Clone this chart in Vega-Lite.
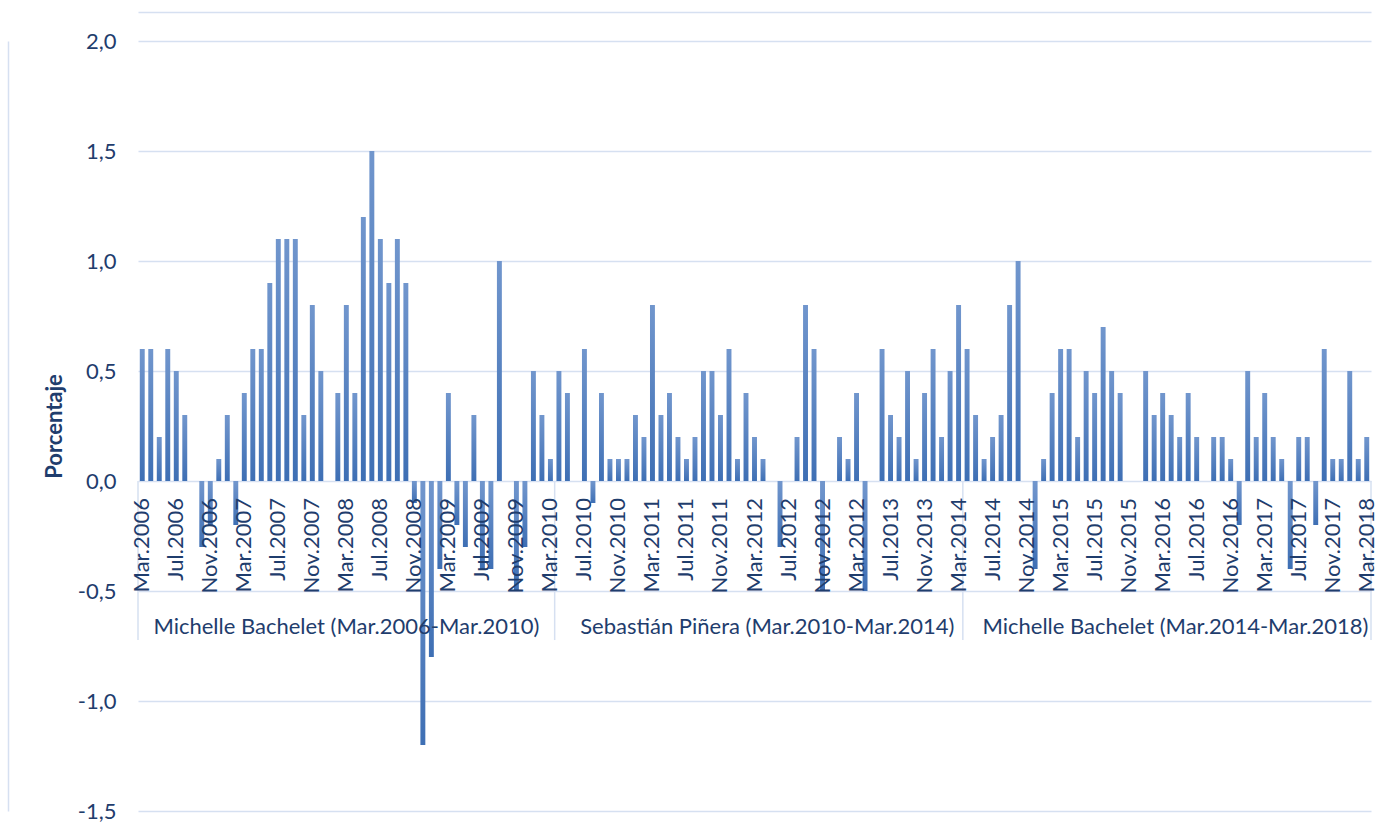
{
  "$schema": "https://vega.github.io/schema/vega-lite/v6.json",
  "width": 1233,
  "height": 770,
  "autosize": {"type": "none"},
  "padding": {"left": 138, "top": 41, "right": 21, "bottom": 25},
  "background": "white",
  "config": {
    "view": {"stroke": null},
    "locale": {"number": {"decimal": ",", "thousands": ".", "grouping": [3], "currency": ["", ""], "minus": "-"}}
  },
  "resolve": {"axis": {"y": "independent"}},
  "datasets": {
    "ipc": [
      {"mes": "2006-03", "v": 0.6, "e": "Mar.2006"},
      {"mes": "2006-04", "v": 0.6},
      {"mes": "2006-05", "v": 0.2},
      {"mes": "2006-06", "v": 0.6},
      {"mes": "2006-07", "v": 0.5, "e": "Jul.2006"},
      {"mes": "2006-08", "v": 0.3},
      {"mes": "2006-09", "v": 0.0},
      {"mes": "2006-10", "v": -0.3},
      {"mes": "2006-11", "v": -0.2, "e": "Nov.2006"},
      {"mes": "2006-12", "v": 0.1},
      {"mes": "2007-01", "v": 0.3},
      {"mes": "2007-02", "v": -0.2},
      {"mes": "2007-03", "v": 0.4, "e": "Mar.2007"},
      {"mes": "2007-04", "v": 0.6},
      {"mes": "2007-05", "v": 0.6},
      {"mes": "2007-06", "v": 0.9},
      {"mes": "2007-07", "v": 1.1, "e": "Jul.2007"},
      {"mes": "2007-08", "v": 1.1},
      {"mes": "2007-09", "v": 1.1},
      {"mes": "2007-10", "v": 0.3},
      {"mes": "2007-11", "v": 0.8, "e": "Nov.2007"},
      {"mes": "2007-12", "v": 0.5},
      {"mes": "2008-01", "v": 0.0},
      {"mes": "2008-02", "v": 0.4},
      {"mes": "2008-03", "v": 0.8, "e": "Mar.2008"},
      {"mes": "2008-04", "v": 0.4},
      {"mes": "2008-05", "v": 1.2},
      {"mes": "2008-06", "v": 1.5},
      {"mes": "2008-07", "v": 1.1, "e": "Jul.2008"},
      {"mes": "2008-08", "v": 0.9},
      {"mes": "2008-09", "v": 1.1},
      {"mes": "2008-10", "v": 0.9},
      {"mes": "2008-11", "v": -0.1, "e": "Nov.2008"},
      {"mes": "2008-12", "v": -1.2},
      {"mes": "2009-01", "v": -0.8},
      {"mes": "2009-02", "v": -0.4},
      {"mes": "2009-03", "v": 0.4, "e": "Mar.2009"},
      {"mes": "2009-04", "v": -0.2},
      {"mes": "2009-05", "v": -0.3},
      {"mes": "2009-06", "v": 0.3},
      {"mes": "2009-07", "v": -0.4, "e": "Jul.2009"},
      {"mes": "2009-08", "v": -0.4},
      {"mes": "2009-09", "v": 1.0},
      {"mes": "2009-10", "v": 0.0},
      {"mes": "2009-11", "v": -0.5, "e": "Nov.2009"},
      {"mes": "2009-12", "v": -0.3},
      {"mes": "2010-01", "v": 0.5},
      {"mes": "2010-02", "v": 0.3},
      {"mes": "2010-03", "v": 0.1, "e": "Mar.2010"},
      {"mes": "2010-04", "v": 0.5},
      {"mes": "2010-05", "v": 0.4},
      {"mes": "2010-06", "v": 0.0},
      {"mes": "2010-07", "v": 0.6, "e": "Jul.2010"},
      {"mes": "2010-08", "v": -0.1},
      {"mes": "2010-09", "v": 0.4},
      {"mes": "2010-10", "v": 0.1},
      {"mes": "2010-11", "v": 0.1, "e": "Nov.2010"},
      {"mes": "2010-12", "v": 0.1},
      {"mes": "2011-01", "v": 0.3},
      {"mes": "2011-02", "v": 0.2},
      {"mes": "2011-03", "v": 0.8, "e": "Mar.2011"},
      {"mes": "2011-04", "v": 0.3},
      {"mes": "2011-05", "v": 0.4},
      {"mes": "2011-06", "v": 0.2},
      {"mes": "2011-07", "v": 0.1, "e": "Jul.2011"},
      {"mes": "2011-08", "v": 0.2},
      {"mes": "2011-09", "v": 0.5},
      {"mes": "2011-10", "v": 0.5},
      {"mes": "2011-11", "v": 0.3, "e": "Nov.2011"},
      {"mes": "2011-12", "v": 0.6},
      {"mes": "2012-01", "v": 0.1},
      {"mes": "2012-02", "v": 0.4},
      {"mes": "2012-03", "v": 0.2, "e": "Mar.2012"},
      {"mes": "2012-04", "v": 0.1},
      {"mes": "2012-05", "v": 0.0},
      {"mes": "2012-06", "v": -0.3},
      {"mes": "2012-07", "v": 0.0, "e": "Jul.2012"},
      {"mes": "2012-08", "v": 0.2},
      {"mes": "2012-09", "v": 0.8},
      {"mes": "2012-10", "v": 0.6},
      {"mes": "2012-11", "v": -0.5, "e": "Nov.2012"},
      {"mes": "2012-12", "v": 0.0},
      {"mes": "2013-01", "v": 0.2},
      {"mes": "2013-02", "v": 0.1},
      {"mes": "2013-03", "v": 0.4, "e": "Mar.2012"},
      {"mes": "2013-04", "v": -0.5},
      {"mes": "2013-05", "v": 0.0},
      {"mes": "2013-06", "v": 0.6},
      {"mes": "2013-07", "v": 0.3, "e": "Jul.2013"},
      {"mes": "2013-08", "v": 0.2},
      {"mes": "2013-09", "v": 0.5},
      {"mes": "2013-10", "v": 0.1},
      {"mes": "2013-11", "v": 0.4, "e": "Nov.2013"},
      {"mes": "2013-12", "v": 0.6},
      {"mes": "2014-01", "v": 0.2},
      {"mes": "2014-02", "v": 0.5},
      {"mes": "2014-03", "v": 0.8, "e": "Mar.2014"},
      {"mes": "2014-04", "v": 0.6},
      {"mes": "2014-05", "v": 0.3},
      {"mes": "2014-06", "v": 0.1},
      {"mes": "2014-07", "v": 0.2, "e": "Jul.2014"},
      {"mes": "2014-08", "v": 0.3},
      {"mes": "2014-09", "v": 0.8},
      {"mes": "2014-10", "v": 1.0},
      {"mes": "2014-11", "v": 0.0, "e": "Nov.2014"},
      {"mes": "2014-12", "v": -0.4},
      {"mes": "2015-01", "v": 0.1},
      {"mes": "2015-02", "v": 0.4},
      {"mes": "2015-03", "v": 0.6, "e": "Mar.2015"},
      {"mes": "2015-04", "v": 0.6},
      {"mes": "2015-05", "v": 0.2},
      {"mes": "2015-06", "v": 0.5},
      {"mes": "2015-07", "v": 0.4, "e": "Jul.2015"},
      {"mes": "2015-08", "v": 0.7},
      {"mes": "2015-09", "v": 0.5},
      {"mes": "2015-10", "v": 0.4},
      {"mes": "2015-11", "v": 0.0, "e": "Nov.2015"},
      {"mes": "2015-12", "v": 0.0},
      {"mes": "2016-01", "v": 0.5},
      {"mes": "2016-02", "v": 0.3},
      {"mes": "2016-03", "v": 0.4, "e": "Mar.2016"},
      {"mes": "2016-04", "v": 0.3},
      {"mes": "2016-05", "v": 0.2},
      {"mes": "2016-06", "v": 0.4},
      {"mes": "2016-07", "v": 0.2, "e": "Jul.2016"},
      {"mes": "2016-08", "v": 0.0},
      {"mes": "2016-09", "v": 0.2},
      {"mes": "2016-10", "v": 0.2},
      {"mes": "2016-11", "v": 0.1, "e": "Nov.2016"},
      {"mes": "2016-12", "v": -0.2},
      {"mes": "2017-01", "v": 0.5},
      {"mes": "2017-02", "v": 0.2},
      {"mes": "2017-03", "v": 0.4, "e": "Mar.2017"},
      {"mes": "2017-04", "v": 0.2},
      {"mes": "2017-05", "v": 0.1},
      {"mes": "2017-06", "v": -0.4},
      {"mes": "2017-07", "v": 0.2, "e": "Jul.2017"},
      {"mes": "2017-08", "v": 0.2},
      {"mes": "2017-09", "v": -0.2},
      {"mes": "2017-10", "v": 0.6},
      {"mes": "2017-11", "v": 0.1, "e": "Nov.2017"},
      {"mes": "2017-12", "v": 0.1},
      {"mes": "2018-01", "v": 0.5},
      {"mes": "2018-02", "v": 0.1},
      {"mes": "2018-03", "v": 0.2, "e": "Mar.2018"}
    ],
    "gobiernos": [
      {"mes": "2008-03", "g": "Michelle Bachelet (Mar.2006-Mar.2010)", "pos": "centro"},
      {"mes": "2012-05", "g": "Sebastián Piñera (Mar.2010-Mar.2014)", "pos": "borde"},
      {"mes": "2016-05", "g": "Michelle Bachelet (Mar.2014-Mar.2018)", "pos": "borde"}
    ],
    "separadores": [
      {"mes": "2006-03", "lado": "inicio"},
      {"mes": "2010-04", "lado": "inicio"},
      {"mes": "2014-04", "lado": "inicio"},
      {"mes": "2018-03", "lado": "fin"}
    ]
  },
  "layer": [
    {
      "data": {"name": "ipc"},
      "mark": {
        "type": "bar",
        "width": {"band": 0.58},
        "color": {
          "gradient": "linear", "x1": 0, "y1": 0, "x2": 0, "y2": 1,
          "stops": [{"offset": 0, "color": "#7196cd"}, {"offset": 1, "color": "#3e6fb4"}]
        }
      },
      "encoding": {
        "x": {
          "field": "mes", "type": "ordinal",
          "scale": {"paddingInner": 0, "paddingOuter": 0},
          "axis": {
            "orient": "top", "offset": 29, "labels": false, "ticks": false, "grid": false,
            "domain": true, "domainColor": "#d6e0f1", "domainWidth": 1.5, "title": null
          }
        },
        "y": {
          "field": "v", "type": "quantitative",
          "scale": {"domain": [-1.5, 2.0], "nice": false, "zero": false},
          "axis": {
            "orient": "left",
            "values": [-1.5, -1.0, -0.5, 0, 0.5, 1.0, 1.5, 2.0],
            "format": ".1f",
            "grid": true, "gridColor": "#d6e0f1", "gridWidth": 1.5,
            "domain": false, "ticks": false,
            "labelFont": "Lato", "labelFontSize": 22, "labelColor": "#1f3d6d", "labelPadding": 22,
            "title": "Porcentaje", "titleFont": "Lato", "titleFontSize": 22, "titleFontWeight": "bold",
            "titleColor": "#1f3d6d", "titlePadding": 11
          }
        }
      }
    },
    {
      "data": {"name": "separadores"},
      "transform": [{"filter": "datum.lado == 'inicio'"}],
      "mark": {"type": "rule", "color": "#d6e0f1", "strokeWidth": 1.5},
      "encoding": {
        "x": {"field": "mes", "type": "ordinal", "bandPosition": 0},
        "y": {"datum": 2.1318, "axis": {
          "orient": "left", "offset": 130, "labels": false, "ticks": false, "grid": false,
          "domain": true, "domainColor": "#d6e0f1", "domainWidth": 1.5, "title": null
        }},
        "y2": {"datum": 2.1318},
        "opacity": {"value": 0}
      }
    },
    {
      "data": {"name": "separadores"},
      "transform": [{"filter": "datum.lado == 'inicio'"}],
      "mark": {"type": "rule", "color": "#d6e0f1", "strokeWidth": 1.5},
      "encoding": {
        "x": {"field": "mes", "type": "ordinal", "bandPosition": 0},
        "y": {"datum": 0, "axis": null},
        "y2": {"datum": -0.723}
      }
    },
    {
      "data": {"name": "separadores"},
      "transform": [{"filter": "datum.lado == 'fin'"}],
      "mark": {"type": "rule", "color": "#d6e0f1", "strokeWidth": 1.5},
      "encoding": {
        "x": {"field": "mes", "type": "ordinal", "bandPosition": 1},
        "y": {"datum": 0, "axis": null},
        "y2": {"datum": -0.723}
      }
    },
    {
      "data": {"name": "ipc"},
      "transform": [{"filter": "datum.e"}],
      "mark": {
        "type": "text", "angle": 270, "align": "right", "baseline": "middle",
        "dx": -17, "font": "Lato", "fontSize": 22, "color": "#1f3d6d"
      },
      "encoding": {
        "x": {"field": "mes", "type": "ordinal"},
        "y": {"datum": 0, "axis": null},
        "text": {"field": "e"}
      }
    },
    {
      "data": {"name": "gobiernos"},
      "transform": [{"filter": "datum.pos == 'centro'"}],
      "mark": {"type": "text", "align": "center", "baseline": "middle", "font": "Lato", "fontSize": 22, "color": "#1f3d6d"},
      "encoding": {
        "x": {"field": "mes", "type": "ordinal", "bandPosition": 0.5},
        "y": {"datum": -0.664, "axis": null},
        "text": {"field": "g"}
      }
    },
    {
      "data": {"name": "gobiernos"},
      "transform": [{"filter": "datum.pos == 'borde'"}],
      "mark": {"type": "text", "align": "center", "baseline": "middle", "font": "Lato", "fontSize": 22, "color": "#1f3d6d"},
      "encoding": {
        "x": {"field": "mes", "type": "ordinal", "bandPosition": 0},
        "y": {"datum": -0.664, "axis": null},
        "text": {"field": "g"}
      }
    }
  ]
}
